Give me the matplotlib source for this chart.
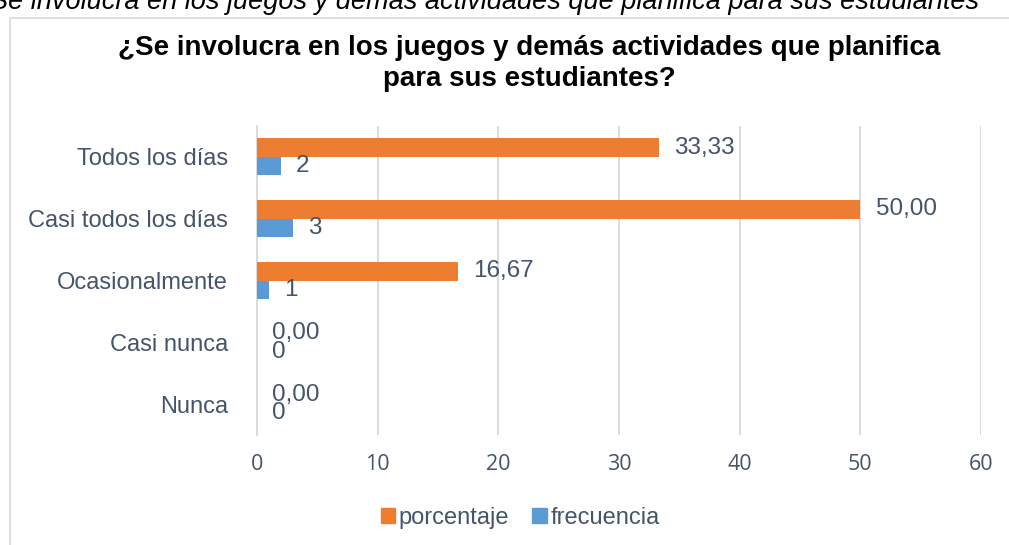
import matplotlib
matplotlib.use("Agg")
import matplotlib.pyplot as plt
from matplotlib.patches import Rectangle, Patch

categories = ["Todos los días", "Casi todos los días", "Ocasionalmente", "Casi nunca", "Nunca"]
porcentaje = [33.33, 50.00, 16.67, 0.00, 0.00]
frecuencia = [2, 3, 1, 0, 0]
xticks = [0, 10, 20, 30, 40, 50, 60]
title = "¿Se involucra en los juegos y demás actividades que planifica\npara sus estudiantes?"
caption = "Se involucra en los juegos y demás actividades que planifica para sus estudiantes"

ORANGE = "#ED7D31"
BLUE = "#5B9BD5"
TXT = "#44546A"
GRID = "#D9D9D9"

W, H = 1009, 545
fig = plt.figure(figsize=(W / 100, H / 100), dpi=100)
fig.patch.set_facecolor("white")

# chart border
fig.patches.append(Rectangle((10 / W, -0.01), 1.2, 1 - 18 / H + 0.01, transform=fig.transFigure,
                             fill=False, edgecolor=GRID, linewidth=1.2))
# cropped caption at the very top
fig.text(485 / W, 1 - 9 / H, caption, ha="center", va="baseline", fontsize=19.5,
         style="italic", family="Liberation Sans", color="black")

fig.text(529 / W, 1 - 63 / H, title, ha="center", va="center", fontsize=20, fontweight="bold",
         family="Liberation Sans", color="black", linespacing=1.25)

ax = fig.add_axes([257 / W, 1 - 435 / H, (981 - 257) / W, (435 - 126) / H])
n = len(categories)
ys = list(range(n))
h = 0.3
pos_o = [y - h / 2 for y in ys]
pos_b = [y + h / 2 for y in ys]
ax.barh(pos_o, porcentaje, height=h, color=ORANGE, zorder=3, label="porcentaje")
ax.barh(pos_b, frecuencia, height=h, color=BLUE, zorder=3, label="frecuencia")
ax.set_ylim(n - 0.5, -0.5)
ax.set_xlim(0, 60)
ax.set_xticks(xticks)
ax.set_yticks(ys)
ax.set_yticklabels(categories, family="Liberation Sans", fontsize=17, color=TXT)
ax.set_xticklabels([str(t) for t in xticks], family="Open Sans", fontsize=15.5, color=TXT)
ax.tick_params(axis="y", length=0, pad=21)
ax.tick_params(axis="x", length=0, pad=14)
ax.grid(axis="x", color=GRID, linewidth=1.3, zorder=0)
for s in ["top", "right", "bottom"]:
    ax.spines[s].set_visible(False)
ax.spines["left"].set_color(GRID)
ax.spines["left"].set_linewidth(1.3)

for y, v in zip(pos_o, porcentaje):
    ax.annotate(f"{v:.2f}".replace(".", ","), (v, y), xytext=(11, 0), textcoords="offset points",
                va="center", ha="left", fontsize=17.5, color=TXT, family="Liberation Sans")
for y, v in zip(pos_b, frecuencia):
    ax.annotate(f"{v}", (v, y), xytext=(10.5, 0), textcoords="offset points",
                va="center", ha="left", fontsize=17.5, color=TXT, family="Liberation Sans")

handles = [Patch(color=ORANGE), Patch(color=BLUE)]
fig.legend(handles, ["porcentaje", "frecuencia"], loc="center", bbox_to_anchor=(520 / W, 1 - 518 / H),
           ncol=2, frameon=False, prop={"family": "Liberation Sans", "size": 17},
           labelcolor=TXT, handlelength=0.6, handleheight=0.6, handletextpad=0.15, columnspacing=1.0)

fig.savefig("out.png", dpi=100)
